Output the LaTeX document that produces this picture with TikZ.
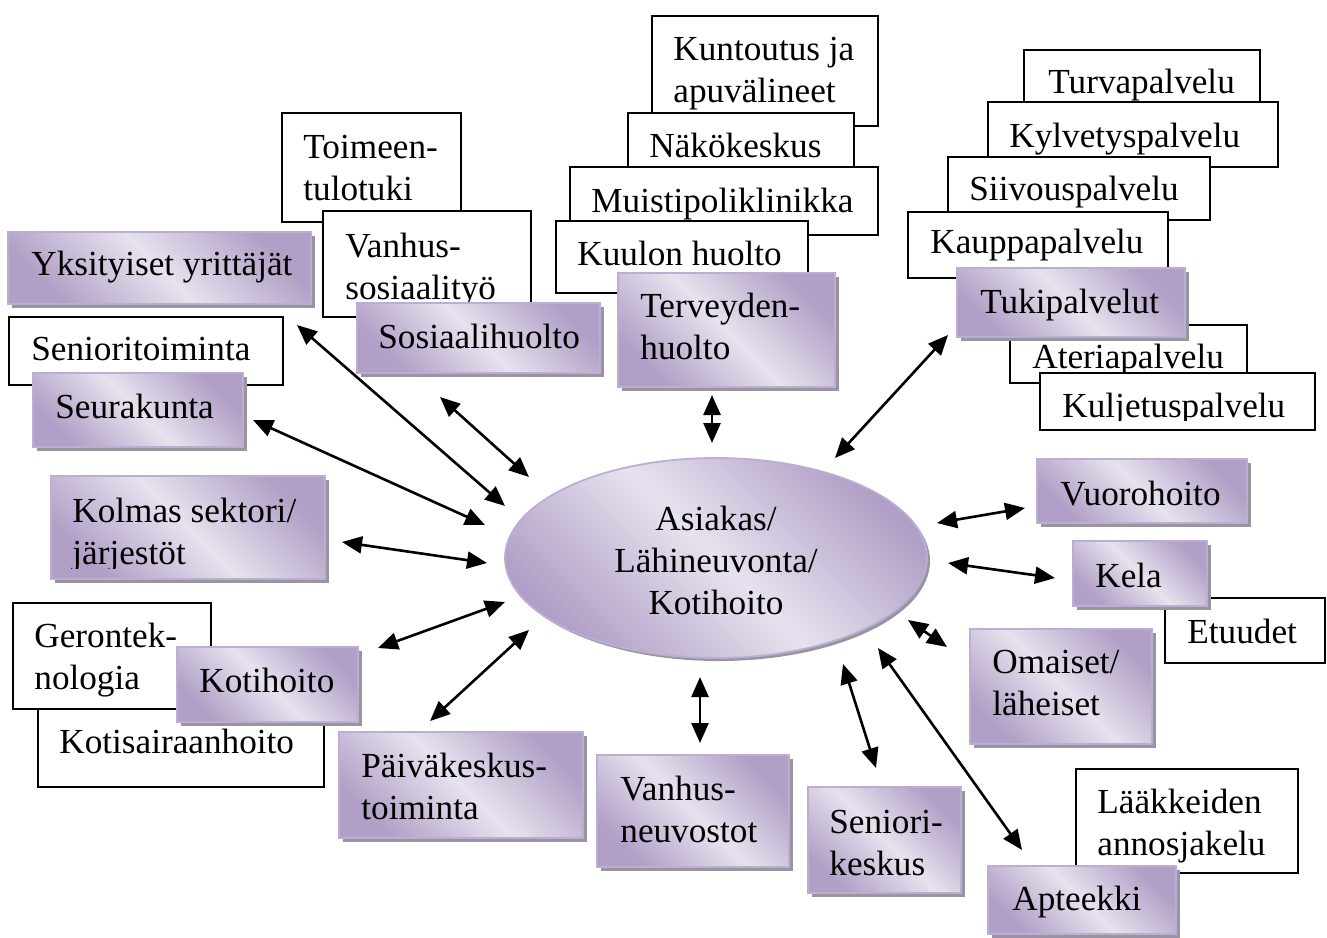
\documentclass[tikz,border=0pt]{standalone}
\usepackage{fontspec}
\setmainfont{Liberation Serif}
\usetikzlibrary{arrows.meta,shapes.geometric,shadows}
\definecolor{pdark}{RGB}{176,159,198}
\definecolor{plight}{RGB}{231,226,238}
\definecolor{pborder}{RGB}{188,174,210}
\definecolor{pshadow}{RGB}{152,149,158}
\tikzset{
  pbox/.style={anchor=north west, inner sep=0pt, outer sep=0pt, draw=pborder, line width=0.9pt,
    top color=pdark, bottom color=pdark, middle color=plight, shading angle=-45,
    drop shadow={shadow xshift=1.8pt, shadow yshift=-1.8pt, fill=pshadow, opacity=1}},
  wbox/.style={anchor=north west, inner sep=0pt, outer sep=0pt, draw=black, line width=1pt, fill=white},
  txt/.style={anchor=base west, inner sep=0pt, font=\fontsize{17.6}{21}\selectfont},
  ctxt/.style={anchor=base, inner sep=0pt, font=\fontsize{17.6}{21}\selectfont},
  ellbox/.style={ellipse, inner sep=0pt, draw=pborder, line width=0.9pt,
    top color=pdark, bottom color=pdark, middle color=plight, shading angle=-45,
    drop shadow={shadow xshift=1.5pt, shadow yshift=-1.5pt, fill=pshadow, opacity=1}},
  arr/.style={line width=1.3pt, {Triangle[length=10pt,width=8.5pt]}-{Triangle[length=10pt,width=8.5pt]}},
}
\newcommand\PBox[5]{\node[pbox, minimum width={(#4-#2)*0.5pt}, minimum height={(#5-#3)*0.5pt}] (#1) at (#2,#3) {};}
\newcommand\WBox[5]{\node[wbox, minimum width={(#4-#2)*0.5pt}, minimum height={(#5-#3)*0.5pt}] (#1) at (#2,#3) {};}
\newcommand\TXt[4]{\node[txt] (#1) at (#2,#3) {\begin{tabular}[t]{@{}l@{}}#4\end{tabular}};}
\begin{document}
\begin{tikzpicture}[x=0.5pt,y=-0.5pt]
\useasboundingbox (0,0) rectangle (1327,937);
% left top
\PBox{yks}{8}{232}{311}{304}
\TXt{ykst}{31}{275}{Yksityiset yrittäjät}
\WBox{sen}{9}{317}{283}{385}
\TXt{sent}{31}{360}{Senioritoiminta}
\PBox{seu}{33}{373}{243}{447}
\TXt{seut}{55}{418}{Seurakunta}
% social
\WBox{toi}{282}{113}{461}{222}
\TXt{toit}{303}{158}{Toimeen-\\tulotuki}
\WBox{vso}{323}{211}{531}{317}
\TXt{vsot}{345}{257}{Vanhus-\\sosiaalityö}
\PBox{sos}{357}{303}{600}{373}
\TXt{sost}{378}{348}{Sosiaalihuolto}
% health
\WBox{kun}{652}{16}{878}{126}
\TXt{kunt}{673}{60}{Kuntoutus ja\\apuvälineet}
\WBox{nak}{628}{113}{854}{175}
\TXt{nakt}{649}{157}{Näkökeskus}
\WBox{mui}{570}{167}{878}{235}
\TXt{muit}{591}{212}{Muistipoliklinikka}
\WBox{kuu}{556}{221}{808}{293}
\TXt{kuut}{577}{265}{Kuulon huolto}
\PBox{ter}{618}{273}{835}{387}
\TXt{tert}{640}{317}{Terveyden-\\huolto}
% support services
\WBox{tur}{1024}{50}{1260}{108}
\TXt{turt}{1048}{93}{Turvapalvelu}
\WBox{kyl}{988}{102}{1278}{167}
\TXt{kylt}{1009}{147}{Kylvetyspalvelu}
\WBox{sii}{948}{157}{1210}{220}
\TXt{siit}{969}{200}{Siivouspalvelu}
\WBox{kau}{908}{212}{1168}{278}
\TXt{kaut}{930}{253}{Kauppapalvelu}
\WBox{ate}{1010}{325}{1247}{383}
\TXt{atet}{1032}{368}{Ateriapalvelu}
\WBox{kul}{1040}{373}{1315}{430}
\begin{scope}
\clip (1040,373) rectangle (1315,420);
\TXt{kult}{1062}{417}{Kuljetuspalvelu}
\end{scope}
\PBox{tuk}{957}{268}{1185}{337}
\TXt{tukt}{980}{313}{Tukipalvelut}
% centre
\node[ellbox, minimum width=211pt, minimum height=100pt] (ell) at (716,558) {};
\node[ctxt] (ellt) at (716,530) {\begin{tabular}[t]{@{}c@{}}Asiakas/\\Lähineuvonta/\\Kotihoito\end{tabular}};
% left middle
\PBox{kol}{51}{476}{325}{579}
\begin{scope}
\clip (51,476) rectangle (325,568);
\TXt{kolt}{72}{522}{Kolmas sektori/\\järjestöt}
\end{scope}
\WBox{kot}{38}{705}{324}{787}
\TXt{kott}{59}{753}{Kotisairaanhoito}
\WBox{ger}{13}{603}{211}{709}
\TXt{gert}{34}{647}{Gerontek-\\nologia}
\PBox{koh}{177}{647}{358}{722}
\TXt{koht}{199}{692}{Kotihoito}
% bottom
\PBox{pai}{339}{732}{583}{838}
\TXt{pait}{361}{777}{Päiväkeskus-\\toiminta}
\PBox{van}{597}{755}{789}{867}
\TXt{vant}{620}{800}{Vanhus-\\neuvostot}
\PBox{snk}{808}{787}{961}{893}
\TXt{snkt}{829}{833}{Seniori-\\keskus}
\WBox{laa}{1076}{769}{1298}{873}
\TXt{laat}{1097}{813}{Lääkkeiden\\annosjakelu}
\PBox{apt}{988}{866}{1176}{934}
\TXt{aptt}{1012}{910}{Apteekki}
% right
\PBox{oma}{970}{629}{1152}{744}
\TXt{omat}{992}{673}{Omaiset/\\läheiset}
\PBox{vuo}{1037}{459}{1247}{523}
\TXt{vuot}{1060}{505}{Vuorohoito}
\WBox{etu}{1165}{598}{1325}{663}
\TXt{etut}{1187}{643}{Etuudet}
\PBox{kel}{1073}{541}{1207}{606}
\TXt{kelt}{1095}{587}{Kela}
% arrow end points
\coordinate (a1s) at (297,325);  \coordinate (a1e) at (505,506);
\coordinate (a2s) at (253,420);  \coordinate (a2e) at (485,525);
\coordinate (a3s) at (440,397);  \coordinate (a3e) at (529,477);
\coordinate (a4s) at (712,395);  \coordinate (a4e) at (712,443);
\coordinate (a5s) at (948,335);  \coordinate (a5e) at (835,458);
\coordinate (a6s) at (342,542);  \coordinate (a6e) at (487,563);
\coordinate (a7s) at (378,648);  \coordinate (a7e) at (505,602);
\coordinate (a8s) at (430,721);  \coordinate (a8e) at (529,630);
\coordinate (a9s) at (700,743);  \coordinate (a9e) at (700,677);
\coordinate (a10s) at (876,768); \coordinate (a10e) at (843,664);
\coordinate (a11s) at (1022,850); \coordinate (a11e) at (878,648);
\coordinate (a12s) at (947,647); \coordinate (a12e) at (908,620);
\coordinate (a13s) at (1055,578); \coordinate (a13e) at (948,563);
\coordinate (a14s) at (1025,508); \coordinate (a14e) at (937,523);
\foreach \i in {1,...,14} {\draw[arr] (a\i s) -- (a\i e);}
\end{tikzpicture}
\end{document}
